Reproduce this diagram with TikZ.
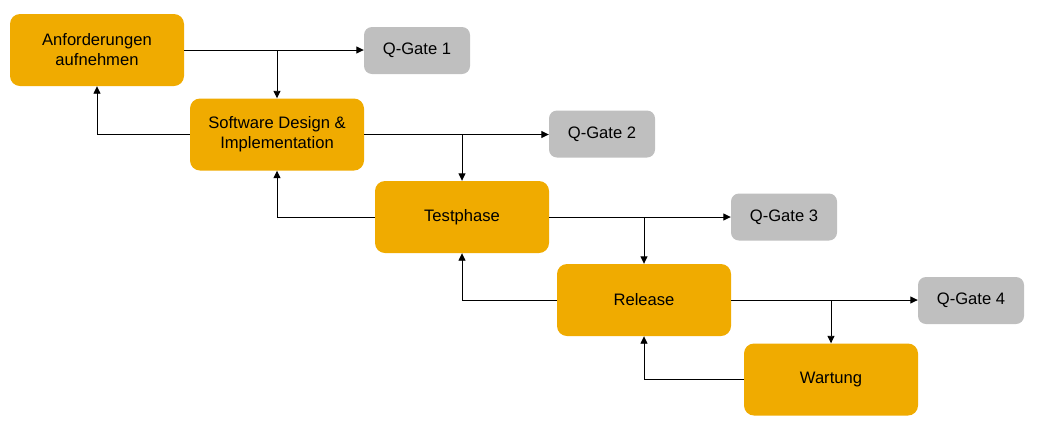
\documentclass[tikz,border=0pt]{standalone}
\usepackage{fontspec}
\setmainfont{Liberation Sans}
\usetikzlibrary{arrows.meta}
\definecolor{phase}{HTML}{F0AB00}
\definecolor{gate}{HTML}{BFBFBF}
\begin{document}
\begin{tikzpicture}[x=1pt,y=-1pt,
  phasebox/.style={fill=phase, rounded corners=10pt, minimum width=174pt, minimum height=72pt, inner sep=0pt, align=center, font=\fontsize{16.6}{20}\selectfont},
  gatebox/.style={fill=gate, rounded corners=8pt, minimum width=106pt, minimum height=47pt, inner sep=0pt, align=center, font=\fontsize{16.6}{20}\selectfont},
  conn/.style={line width=0.9pt, -{Triangle[length=7.5pt,width=7pt]}}]
\useasboundingbox (0,0) rectangle (1041,440);
\node[phasebox] (a) at (97,50) {Anforderungen\\aufnehmen};
\node[phasebox] (s) at (277,134.5) {Software Design \&\\Implementation};
\node[phasebox] (t) at (462,217) {Testphase};
\node[phasebox] (r) at (644,300) {Release};
\node[phasebox] (w) at (831,379.5) {Wartung};
\node[gatebox] (q1) at (417,50.5) {Q-Gate 1};
\node[gatebox] (q2) at (602,134) {Q-Gate 2};
\node[gatebox] (q3) at (784,217) {Q-Gate 3};
\node[gatebox] (q4) at (971,300.5) {Q-Gate 4};
% forward flows
\draw[conn] (a.east) -- (a.east -| q1.west);
\draw[conn] (a.east -| s.north) -- (s.north);
\draw[conn] (s.east) -- (s.east -| q2.west);
\draw[conn] (s.east -| t.north) -- (t.north);
\draw[conn] (t.east) -- (t.east -| q3.west);
\draw[conn] (t.east -| r.north) -- (r.north);
\draw[conn] (r.east) -- (r.east -| q4.west);
\draw[conn] (r.east -| w.north) -- (w.north);
% feedback flows
\draw[conn] (s.west) -| (a.south);
\draw[conn] (t.west) -| (s.south);
\draw[conn] (r.west) -| (t.south);
\draw[conn] (w.west) -| (r.south);
\end{tikzpicture}
\end{document}
